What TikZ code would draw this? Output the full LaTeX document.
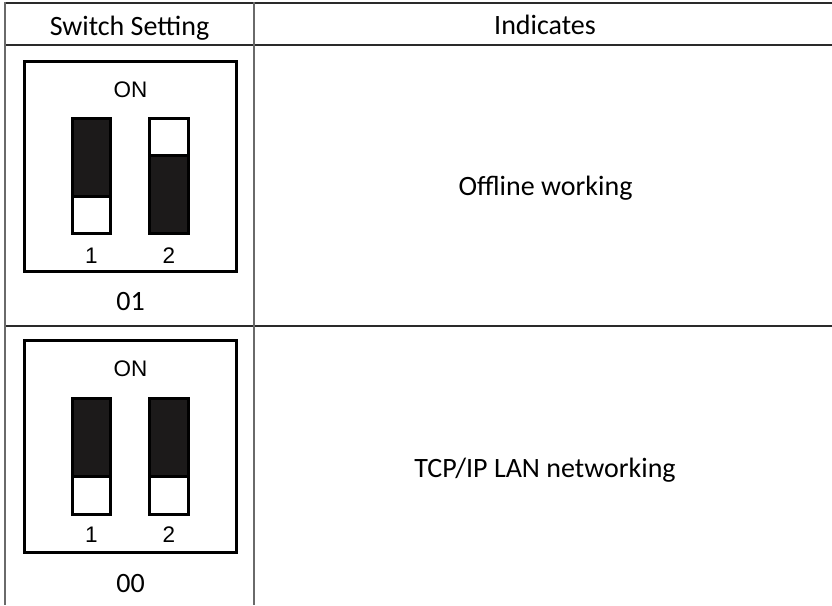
\documentclass[tikz,border=0pt]{standalone}
\usepackage{fontspec}
\setmainfont{Carlito}
\newfontfamily\dipfontfamily{Liberation Sans}
\usepackage{xcolor}
\usetikzlibrary{positioning}
\definecolor{rulegray}{HTML}{6A6A6A}
\definecolor{ruledark}{HTML}{2A2A2A}
\definecolor{leverblack}{HTML}{1C1A1A}

\begin{document}
\begin{tikzpicture}[
  x=1pt, y=-1pt,
  celltext/.style={font=\fontsize{28}{32}\selectfont, inner sep=0pt, anchor=base},
  diptext/.style={font=\dipfontfamily\fontsize{22.5}{26}\selectfont, inner sep=0pt, anchor=base},
  hrule/.style={draw=ruledark, line width=1.5pt},
  vrule/.style={draw=rulegray, line width=2pt},
  dipbox/.style={draw=black, line width=3pt},
  slot/.style={draw=black, line width=3pt, fill=leverblack},
  knob/.style={draw=black, line width=3pt, fill=white}
]
\useasboundingbox (0,0) rectangle (832,605);

% table rules
\draw[hrule] (5,3) -- (832,3);
\draw[hrule] (5,45) -- (832,45);
\draw[hrule] (5,326) -- (832,326);
\draw[vrule] (5,2) -- (5,605);
\draw[vrule] (254,2) -- (254,605);

% header
\node[celltext] (hdrsetting) at (129.5,35) {Switch Setting};
\node[celltext] (hdrindicates) at (545,34) {Indicates};

% first setting: 01
\draw[dipbox] (24.5,61.5) rectangle (236.5,271.5);
\node[diptext] (ontop) at (130.5,97) {ON};
\draw[slot] (72.5,118.5) rectangle (110.5,233.5);
\draw[knob] (72.5,196) rectangle (110.5,233.5);
\draw[slot] (149.5,118.5) rectangle (188.5,233.5);
\draw[knob] (149.5,118.5) rectangle (188.5,155);
\node[diptext] (numtopa) at (91.5,263) {1};
\node[diptext] (numtopb) at (169,263) {2};
\node[celltext] (codetop) at (130.5,310) {01};
\node[celltext] (offline) at (545.5,195) {Offline working};

% second setting: 00
\draw[dipbox] (24.5,340.5) rectangle (236.5,552.5);
\node[diptext] (onbot) at (130.5,376) {ON};
\draw[slot] (72.5,398.5) rectangle (110.5,514);
\draw[knob] (72.5,476) rectangle (110.5,514);
\draw[slot] (149.5,398.5) rectangle (188.5,514);
\draw[knob] (149.5,476) rectangle (188.5,514);
\node[diptext] (numbota) at (91.5,542) {1};
\node[diptext] (numbotb) at (169,542) {2};
\node[celltext] (codebot) at (130.5,592) {00};
\node[celltext] (tcpip) at (545,477) {TCP/IP LAN networking};
\end{tikzpicture}
\end{document}
